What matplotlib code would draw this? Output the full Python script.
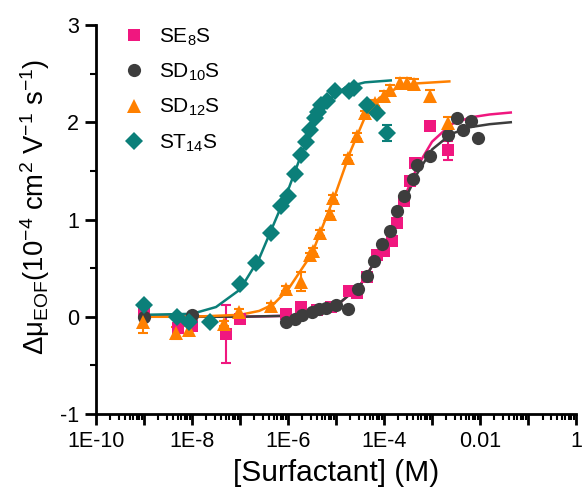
import numpy as np
import matplotlib
matplotlib.use("Agg")
import matplotlib.pyplot as plt
from matplotlib.ticker import LogLocator, FixedLocator, NullFormatter, FixedFormatter

plt.rcParams['font.family'] = ['Liberation Sans', 'DejaVu Sans']
plt.rcParams['mathtext.fontset'] = 'custom'
plt.rcParams['mathtext.rm'] = 'Liberation Sans'
plt.rcParams['mathtext.it'] = 'Liberation Sans:italic'
plt.rcParams['mathtext.bf'] = 'Liberation Sans:bold'

# ---- data (log10 concentration, delta mobility) ----
se8s_logx = [-9.0, -8.3, -8.0, -7.3, -7.0, -6.05, -5.73, -5.4, -5.1, -4.72, -4.56, -4.35,
             -4.14, -4.0, -3.84, -3.73, -3.59, -3.45, -3.36, -3.05, -2.66]
se8s_y = [0.05, -0.12, -0.09, -0.18, -0.02, 0.03, 0.10, 0.07, 0.10, 0.26, 0.24, 0.41,
          0.63, 0.68, 0.78, 0.96, 1.19, 1.40, 1.58, 1.96, 1.71]
se8s_err = [0.04, 0.05, 0.05, 0.30, 0.04, 0.02, 0.02, 0.02, 0.02, 0.02, 0.02, 0.02,
            0.02, 0.02, 0.02, 0.04, 0.04, 0.04, 0.03, 0.03, 0.10]

sd10s_logx = [-9.0, -8.0, -6.05, -5.85, -5.7, -5.5, -5.35, -5.2, -5.0, -4.75, -4.55, -4.35,
              -4.2, -4.04, -3.88, -3.73, -3.59, -3.4, -3.32, -3.05, -2.66, -2.49, -2.35,
              -2.19, -2.04]
sd10s_y = [0.0, 0.02, -0.05, -0.02, 0.02, 0.05, 0.08, 0.09, 0.12, 0.08, 0.29, 0.42,
           0.57, 0.75, 0.88, 1.09, 1.24, 1.42, 1.56, 1.65, 1.87, 2.04, 1.92, 2.01, 1.84]
sd10s_err = [0.02] * len(sd10s_y)

sd12s_logx = [-9.03, -8.33, -8.06, -7.34, -7.03, -6.35, -6.04, -5.73, -5.55, -5.48, -5.34,
              -5.13, -5.07, -4.76, -4.56, -4.39, -4.19, -4.0, -3.88, -3.67, -3.53, -3.38,
              -3.05, -2.66]
sd12s_y = [-0.05, -0.17, -0.14, -0.07, 0.05, 0.11, 0.29, 0.36, 0.63, 0.68, 0.86,
           1.06, 1.22, 1.63, 1.86, 2.09, 2.20, 2.27, 2.33, 2.40, 2.40, 2.39, 2.27, 1.99]
sd12s_err = [0.12, 0.06, 0.05, 0.03, 0.03, 0.03, 0.03, 0.10, 0.03, 0.03, 0.03,
             0.03, 0.03, 0.03, 0.03, 0.03, 0.03, 0.05, 0.05, 0.05, 0.05, 0.05, 0.06, 0.06]

st14s_logx = [-9.0, -8.31, -8.06, -7.63, -7.01, -6.66, -6.35, -6.14, -6.0, -5.86, -5.73,
              -5.63, -5.55, -5.44, -5.38, -5.32, -5.18, -5.03, -4.72, -4.62, -4.35,
              -4.14, -3.94]
st14s_y = [0.12, 0.0, -0.05, -0.05, 0.34, 0.55, 0.86, 1.14, 1.24, 1.47, 1.66,
           1.80, 1.92, 2.04, 2.11, 2.18, 2.22, 2.32, 2.32, 2.35, 2.18, 2.09, 1.89]
st14s_err = [0.02] * (len(st14s_y) - 1) + [0.08]

# fitted curves
fit_se8s_logx = [-9.0, -7.0, -6.0, -5.5, -5.0, -4.5, -4.0, -3.6, -3.3, -3.0, -2.6, -2.2, -1.8, -1.36]
fit_se8s_y = [0.0, 0.0, 0.01, 0.04, 0.11, 0.32, 0.72, 1.2, 1.55, 1.8, 1.98, 2.05, 2.08, 2.1]
fit_sd10s_logx = [-9.0, -7.0, -6.0, -5.5, -5.0, -4.5, -4.0, -3.6, -3.3, -3.0, -2.6, -2.2, -1.8, -1.36]
fit_sd10s_y = [0.0, 0.0, 0.01, 0.04, 0.11, 0.32, 0.72, 1.17, 1.48, 1.72, 1.88, 1.95, 1.98, 2.0]
fit_sd12s_logx = [-9.0, -8.0, -7.0, -6.6, -6.3, -6.0, -5.5, -5.0, -4.7, -4.4, -4.1, -3.7, -3.3, -2.64]
fit_sd12s_y = [0.0, 0.0, 0.02, 0.06, 0.13, 0.28, 0.65, 1.28, 1.7, 2.05, 2.25, 2.36, 2.40, 2.42]
fit_st14s_logx = [-9.0, -8.0, -7.5, -7.0, -6.6, -6.3, -6.0, -5.7, -5.4, -5.1, -4.8, -4.4, -3.86]
fit_st14s_y = [0.02, 0.03, 0.1, 0.28, 0.6, 0.95, 1.3, 1.7, 2.05, 2.25, 2.36, 2.41, 2.43]

labels = [r'SE$_{8}$S', r'SD$_{10}$S', r'SD$_{12}$S', r'ST$_{14}$S']
colors = ['#f0177f', '#3d3d3d', '#ff8000', '#0b7f79']
markers = ['s', 'o', '^', 'D']
msizes = [8.5, 9.5, 10.5, 9.5]

xtick_vals = [1e-10, 1e-8, 1e-6, 1e-4, 1e-2, 1]
xtick_labels = ['1E-10', '1E-8', '1E-6', '1E-4', '0.01', '1']

W, H = 584, 491
fig = plt.figure(figsize=(W / 100, H / 100), dpi=100)
ax = fig.add_axes([0.1644, 0.1568, 0.822, 0.7923])

series = [
    (se8s_logx, se8s_y, se8s_err, fit_se8s_logx, fit_se8s_y),
    (sd10s_logx, sd10s_y, sd10s_err, fit_sd10s_logx, fit_sd10s_y),
    (sd12s_logx, sd12s_y, sd12s_err, fit_sd12s_logx, fit_sd12s_y),
    (st14s_logx, st14s_y, st14s_err, fit_st14s_logx, fit_st14s_y),
]

handles = []
for (lx, y, e, flx, fy), lab, c, m, ms in zip(series, labels, colors, markers, msizes):
    x = 10.0 ** np.array(lx)
    ax.errorbar(x, y, yerr=e, fmt='none', ecolor=c, elinewidth=1.5, capsize=3.5, capthick=1.5, zorder=2)
    ax.plot(10.0 ** np.array(flx), fy, '-', color=c, lw=1.8, zorder=2)
    h, = ax.plot(x, y, linestyle='none', marker=m, color=c, markersize=ms,
                 markeredgewidth=0, label=lab, zorder=3)
    handles.append(h)

ax.set_xscale('log')
ax.set_xlim(1e-10, 1)
ax.set_ylim(-1, 3)

ax.xaxis.set_major_locator(FixedLocator([10.0 ** k for k in range(-10, 1)]))
ax.xaxis.set_major_formatter(FixedFormatter(
    [xtick_labels[xtick_vals.index(10.0 ** k)] if k % 2 == 0 else '' for k in range(-10, 1)]))
ax.xaxis.set_minor_locator(LogLocator(base=10, subs=np.arange(2, 10), numticks=100))
ax.xaxis.set_minor_formatter(NullFormatter())

ax.set_yticks([-1, 0, 1, 2, 3])
ax.set_yticklabels(['-1', '0', '1', '2', '3'])
ax.set_yticks([-0.5, 0.5, 1.5, 2.5], minor=True)

for s in ['top', 'right']:
    ax.spines[s].set_visible(False)
for s in ['left', 'bottom']:
    ax.spines[s].set_linewidth(2)
    ax.spines[s].set_color('black')

ax.tick_params(which='major', direction='out', length=8, width=2, labelsize=15.5, pad=4)
ax.tick_params(which='minor', direction='out', length=4, width=1.5)

ax.set_xlabel('[Surfactant] (M)', fontsize=21.5, labelpad=5)
ylab = ax.set_ylabel('Δμ$_{\\mathrm{EOF}}$(10$^{-4}$ cm$^{2}$ V$^{-1}$ s$^{-1}$)', fontsize=16)

leg = ax.legend(handles=handles, loc='upper left', bbox_to_anchor=(0.014, 1.045), frameon=False,
                fontsize=15, handletextpad=0.6, labelspacing=0.68, handlelength=1.2,
                markerscale=1.0)

# fit the y label to the reference extent (top ~58px, bottom ~355px, right edge ~52px)
fig.canvas.draw()
r = fig.canvas.get_renderer()
bb = ylab.get_window_extent(r)
ylab.set_fontsize(16 * 297.0 / bb.height)
fig.canvas.draw()
bb = ylab.get_window_extent(r)
inv = ax.transAxes.inverted()
# desired centre y (from bottom, px) and right edge x
cy = H - (58 + 355) / 2.0
x1 = 52.0
ax0 = fig.add_axes  # placeholder to keep namespace tidy
pos = ylab.get_position()
cur_cx = (bb.y0 + bb.y1) / 2.0
dy_ax = (cy - cur_cx) / (ax.bbox.height)
dx_ax = (x1 - bb.x1) / (ax.bbox.width)
ax.yaxis.set_label_coords(ax.yaxis.label.get_position()[0] if False else
                          (inv.transform((bb.x1, 0))[0] + dx_ax) - 0.0,
                          0.5 + dy_ax + ((inv.transform((0, cur_cx))[1]) - 0.5))

fig.savefig('out.png', dpi=100)
